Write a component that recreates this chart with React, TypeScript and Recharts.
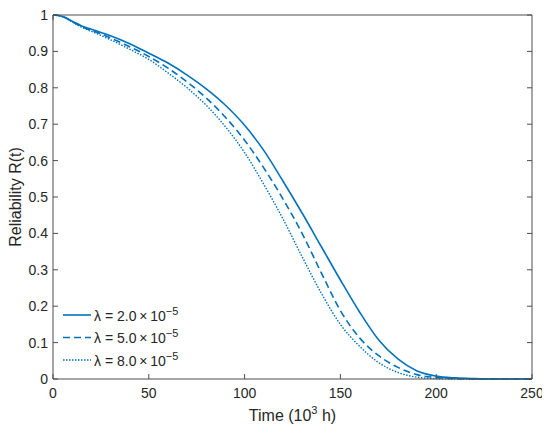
import React from "react";
import { LineChart, Line, XAxis, YAxis } from "recharts";

const times = [0, 5, 10, 15, 20, 25, 30, 40, 50, 60, 70, 80, 90, 100, 110, 120, 130, 140, 150, 160, 170, 180, 190, 200, 210, 220, 230, 240, 250];
const rLow = [1, 0.996, 0.983, 0.97, 0.961, 0.952, 0.943, 0.921, 0.895, 0.868, 0.835, 0.797, 0.752, 0.697, 0.628, 0.544, 0.456, 0.364, 0.272, 0.184, 0.107, 0.055, 0.022, 0.008, 0.003, 0.001, 0, 0, 0];
const rMid = [1, 0.996, 0.982, 0.968, 0.958, 0.948, 0.937, 0.913, 0.886, 0.854, 0.816, 0.772, 0.719, 0.656, 0.58, 0.495, 0.4, 0.292, 0.188, 0.113, 0.064, 0.032, 0.012, 0.004, 0.001, 0, 0, 0, 0];
const rHigh = [1, 0.995, 0.981, 0.966, 0.955, 0.944, 0.932, 0.906, 0.878, 0.841, 0.8, 0.752, 0.693, 0.622, 0.535, 0.44, 0.336, 0.236, 0.15, 0.09, 0.045, 0.018, 0.005, 0.001, 0, 0, 0, 0, 0];

const xTicks = [0, 50, 100, 150, 200, 250];
const yTicks = [0, 0.1, 0.2, 0.3, 0.4, 0.5, 0.6, 0.7, 0.8, 0.9, 1];

const legendItems = [
  { key: "low", coef: "2.0", dash: undefined },
  { key: "mid", coef: "5.0", dash: "7 4" },
  { key: "high", coef: "8.0", dash: "1.5 1.5" },
];

const data = times.map((t, i) => ({ t, low: rLow[i], mid: rMid[i], high: rHigh[i] }));

const BLUE = "#0072BD";
const INK = "#262626";
const AXIS = "#4d4d4d";
const FONT = "'Liberation Sans', Arial, sans-serif";

const BottomTick = ({ x, y, payload }: any) => (
  <g>
    <line x1={x} x2={x} y1={y} y2={y - 5} stroke={AXIS} />
    <text x={x} y={y + 19} textAnchor="middle" fontSize={14} fill={INK} fontFamily={FONT}>
      {payload.value}
    </text>
  </g>
);

const TopTick = ({ x, y }: any) => <line x1={x} x2={x} y1={y} y2={y + 5} stroke={AXIS} />;

const LeftTick = ({ x, y, payload }: any) => (
  <g>
    <line x1={x} x2={x + 5} y1={y} y2={y} stroke={AXIS} />
    <text x={x - 5} y={y + 5} textAnchor="end" fontSize={14} fill={INK} fontFamily={FONT}>
      {payload.value}
    </text>
  </g>
);

const RightTick = ({ x, y }: any) => <line x1={x} x2={x - 5} y1={y} y2={y} stroke={AXIS} />;

function LegendBox() {
  return (
    <svg width={160} height={70} style={{ display: "block" }}>
      {legendItems.map((item, i) => {
        const cy = 9 + i * 22.5;
        return (
          <g key={item.key}>
            <line x1={2} x2={30} y1={cy} y2={cy} stroke={BLUE} strokeWidth={1.6} strokeDasharray={item.dash} />
            <text x={33} y={cy + 5.5} fontSize={14} fill={INK} fontFamily={FONT}>
              {"λ = " + item.coef + "\u2009×\u200910"}
              <tspan dy={-6} fontSize={11}>−5</tspan>
            </text>
          </g>
        );
      })}
    </svg>
  );
}

export default function App() {
  return (
    <div style={{ position: "relative", width: 542, height: 425, fontFamily: FONT }}>
      <LineChart width={542} height={425} data={data} margin={{ top: 0, right: 0, bottom: 0, left: 0 }}>
        <XAxis
          dataKey="t"
          type="number"
          domain={[0, 250]}
          ticks={xTicks}
          height={54}
          stroke={AXIS}
          tickLine={false}
          tickSize={0}
          tickMargin={0}
          tick={<BottomTick />}
          interval={0}
        />
        <XAxis
          xAxisId="top"
          orientation="top"
          type="number"
          domain={[0, 250]}
          ticks={xTicks}
          height={7}
          stroke={AXIS}
          tickLine={false}
          tickSize={0}
          tickMargin={0}
          tick={<TopTick />}
          interval={0}
          allowDataOverflow
        />
        <YAxis
          type="number"
          domain={[0, 1]}
          ticks={yTicks}
          width={45}
          stroke={AXIS}
          tickLine={false}
          tickSize={0}
          tickMargin={0}
          tick={<LeftTick />}
          interval={0}
        />
        <YAxis
          yAxisId="right"
          orientation="right"
          type="number"
          domain={[0, 1]}
          ticks={yTicks}
          width={18}
          stroke={AXIS}
          tickLine={false}
          tickSize={0}
          tickMargin={0}
          tick={<RightTick />}
          interval={0}
          allowDataOverflow
        />
        <Line type="monotone" dataKey="low" stroke={BLUE} strokeWidth={1.6} dot={false} isAnimationActive={false} />
        <Line type="monotone" dataKey="mid" stroke={BLUE} strokeWidth={1.6} strokeDasharray="7 4" dot={false} isAnimationActive={false} />
        <Line type="monotone" dataKey="high" stroke={BLUE} strokeWidth={1.4} strokeDasharray="1.5 1.5" dot={false} isAnimationActive={false} />
        <text x={284.5} y={413} textAnchor="middle" fontSize={16} fill={INK} fontFamily={FONT}>
          Time (10<tspan dy={-7} fontSize={11}>3</tspan>
          <tspan dy={7}> h)</tspan>
        </text>
        <text
          x={13}
          y={189}
          transform="rotate(-90 13 189)"
          textAnchor="middle"
          fontSize={16}
          fill={INK}
          fontFamily={FONT}
        >
          Reliability R(t)
        </text>
      </LineChart>
      <div style={{ position: "absolute", left: 52.7, top: 298 }}>
        <LegendBox />
      </div>
    </div>
  );
}
